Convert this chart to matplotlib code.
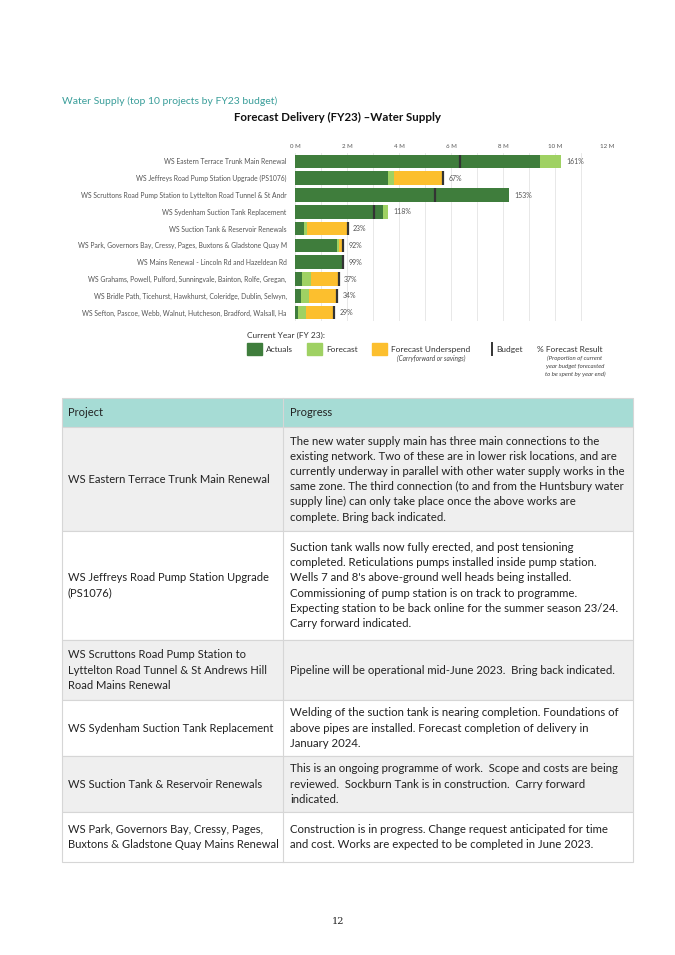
import matplotlib.pyplot as plt
from matplotlib.patches import Rectangle
import numpy as np

plt.rcParams['font.family'] = ['Lato', 'DejaVu Sans']

# ---- chart data (values in $M) ----
projects = [
    'WS Eastern Terrace Trunk Main Renewal',
    'WS Jeffreys Road Pump Station Upgrade (PS1076)',
    'WS Scruttons Road Pump Station to Lyttelton Road Tunnel & St Andr',
    'WS Sydenham Suction Tank Replacement',
    'WS Suction Tank & Reservoir Renewals',
    'WS Park, Governors Bay, Cressy, Pages, Buxtons & Gladstone Quay M',
    'WS Mains Renewal - Lincoln Rd and Hazeldean Rd',
    'WS Grahams, Powell, Pulford, Sunningvale, Bainton, Rolfe, Gregan,',
    'WS Bridle Path, Ticehurst, Hawkhurst, Coleridge, Dublin, Selwyn,',
    'WS Sefton, Pascoe, Webb, Walnut, Hutcheson, Bradford, Walsall, Ha',
]
actuals = [9.42, 3.59, 8.22, 3.37, 0.35, 1.63, 1.86, 0.26, 0.24, 0.10]
forecast = [0.81, 0.23, 0.0, 0.22, 0.11, 0.07, 0.0, 0.34, 0.30, 0.33]
underspend = [0.0, 1.88, 0.0, 0.0, 1.53, 0.16, 0.0, 1.08, 1.09, 1.04]
budget = [6.34, 5.69, 5.37, 3.05, 2.03, 1.85, 1.86, 1.68, 1.63, 1.50]
pct_labels = ['161%', '67%', '153%', '118%', '23%', '92%', '99%', '37%', '34%', '29%']

# ---- table data ----
tbl_projects = [
    ['WS Eastern Terrace Trunk Main Renewal'],
    ['WS Jeffreys Road Pump Station Upgrade', '(PS1076)'],
    ['WS Scruttons Road Pump Station to', 'Lyttelton Road Tunnel & St Andrews Hill', 'Road Mains Renewal'],
    ['WS Sydenham Suction Tank Replacement'],
    ['WS Suction Tank & Reservoir Renewals'],
    ['WS Park, Governors Bay, Cressy, Pages,', 'Buxtons & Gladstone Quay Mains Renewal'],
]
tbl_progress = [
    ['The new water supply main has three main connections to the',
     'existing network. Two of these are in lower risk locations, and are',
     'currently underway in parallel with other water supply works in the',
     'same zone. The third connection (to and from the Huntsbury water',
     'supply line) can only take place once the above works are',
     'complete. Bring back indicated.'],
    ['Suction tank walls now fully erected, and post tensioning',
     'completed. Reticulations pumps installed inside pump station.',
     "Wells 7 and 8's above-ground well heads being installed.",
     'Commissioning of pump station is on track to programme.',
     'Expecting station to be back online for the summer season 23/24.',
     'Carry forward indicated.'],
    ['Pipeline will be operational mid-June 2023.  Bring back indicated.'],
    ['Welding of the suction tank is nearing completion. Foundations of',
     'above pipes are installed. Forecast completion of delivery in',
     'January 2024.'],
    ['This is an ongoing programme of work.  Scope and costs are being',
     'reviewed.  Sockburn Tank is in construction.  Carry forward',
     'indicated.'],
    ['Construction is in progress. Change request anticipated for time',
     'and cost. Works are expected to be completed in June 2023.'],
]
row_edges = [427, 531, 640, 700, 756, 812, 862]

c_act = '#3f7d3c'
c_fc = '#9fd163'
c_und = '#fcbf2e'
c_bud = '#333333'
c_lbl = '#555555'

fig = plt.figure(figsize=(6.75, 9.55), dpi=100)

# page overlay in pixel coords
page = fig.add_axes([0, 0, 1, 1])
page.set_xlim(0, 675)
page.set_ylim(955, 0)
page.axis('off')

# ---- chart ----
ax = fig.add_axes([295 / 675, 1 - 321 / 955, 312 / 675, 168 / 955])
y = np.arange(len(projects))
act = np.array(actuals)
fc = np.array(forecast)
und = np.array(underspend)
h = 0.8
ax.barh(y, act, height=h, color=c_act, zorder=3)
ax.barh(y, fc, left=act, height=h, color=c_fc, zorder=3)
ax.barh(y, und, left=act + fc, height=h, color=c_und, zorder=3)
for i, b in enumerate(budget):
    ax.plot([b, b], [i - h / 2, i + h / 2], color=c_bud, lw=1.6, zorder=4,
            solid_capstyle='butt')
    end = max(act[i] + fc[i] + und[i], b)
    ax.text(end + 0.2, i, pct_labels[i], va='center', ha='left',
            fontsize=5.0, color=c_lbl)
ax.set_xlim(0, 12)
ax.set_ylim(len(projects) - 0.5, -0.5)
ax.set_xticks(np.arange(0, 13, 2))
ax.set_xticklabels([f'{v} M' for v in range(0, 13, 2)], fontsize=4.4, color=c_lbl)
ax.set_xticks(np.arange(0, 13, 1), minor=True)
ax.xaxis.tick_top()
ax.tick_params(axis='x', length=0, pad=3, which='both')
ax.grid(axis='x', which='both', color='#e4e4e4', lw=0.6, zorder=0)
ax.set_yticks(y)
ax.set_yticklabels(projects, fontsize=4.9, color=c_lbl)
ax.tick_params(axis='y', length=0, pad=6)
for s in ax.spines.values():
    s.set_visible(False)

# ---- headings ----
page.text(62, 101, 'Water Supply (top 10 projects by FY23 budget)', color='#3a9e9a',
          fontsize=7.5, va='center', ha='left')
page.text(338, 117, 'Forecast Delivery (FY23) \u2013Water Supply', fontsize=8.3,
          fontweight='bold', va='center', ha='center', color='#111111')

# ---- legend ----
page.text(247, 335, 'Current Year (FY 23):', fontsize=6.0, va='center', color='#333333')
for x0, col, lab in [(247, c_act, 'Actuals'), (307, c_fc, 'Forecast'),
                     (372, c_und, 'Forecast Underspend')]:
    page.add_patch(Rectangle((x0, 343), 15, 12, color=col))
    page.text(x0 + 19, 349, lab, fontsize=6.0, va='center', color='#333333')
page.text(431, 358, '(Carryforward or savings)', fontsize=4.7, style='italic',
          ha='center', va='center', color='#444444')
page.plot([492, 492], [343, 355], color=c_bud, lw=1.4)
page.text(496, 349, 'Budget', fontsize=6.0, va='center', color='#333333')
page.text(537, 349, '% Forecast Result', fontsize=6.0, va='center', color='#333333')
for k, ln in enumerate(['(Proportion of current', 'year budget forecasted',
                        'to be spent by year end)']):
    page.text(575, 358 + 8 * k, ln, fontsize=4.4, style='italic', ha='center',
              va='center', color='#444444')

# ---- table ----
tx0, tx1, tdiv = 62, 633, 283
border = '#d6d6d6'
tfs = 8.0
page.add_patch(Rectangle((tx0, 398), tx1 - tx0, 29, facecolor='#a6dcd5',
                         edgecolor=border, lw=0.8))
page.text(68, 412.5, 'Project', fontsize=tfs, va='center', color='#222222')
page.text(290, 412.5, 'Progress', fontsize=tfs, va='center', color='#222222')
lh = 15.2
for r in range(len(tbl_projects)):
    top, bot = row_edges[r], row_edges[r + 1]
    bg = '#efefef' if r % 2 == 0 else 'white'
    page.add_patch(Rectangle((tx0, top), tx1 - tx0, bot - top, facecolor=bg,
                             edgecolor=border, lw=0.8))
    mid = (top + bot) / 2
    for lines, x0, fs in [(tbl_projects[r], 68, tfs), (tbl_progress[r], 290, 8.2)]:
        n = len(lines)
        for k, ln in enumerate(lines):
            page.text(x0, mid + (k - (n - 1) / 2) * lh, ln, fontsize=fs,
                      va='center', ha='left', color='#222222')
page.plot([tdiv, tdiv], [398, row_edges[-1]], color=border, lw=0.8)

page.text(338, 921, '12', fontsize=7, ha='center', va='center', color='#222222',
          family=['DejaVu Serif'])

fig.savefig('out.png', dpi=100)
